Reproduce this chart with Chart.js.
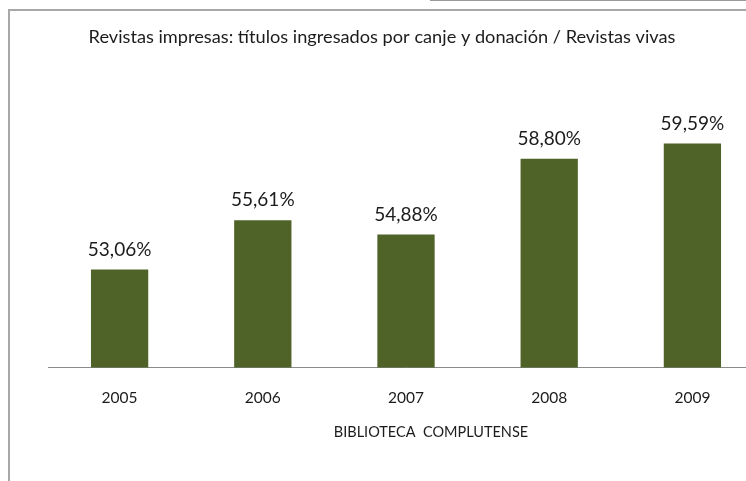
<!DOCTYPE html>
<html>
<head>
<meta charset="utf-8" />
<script src="https://cdn.jsdelivr.net/npm/chart.js"></script>
<style>
  html, body { margin: 0; padding: 0; background: #fff; overflow: hidden; }
  body { width: 746px; height: 481px; position: relative; }
  #wrap { position: absolute; left: 0; top: 0; width: 764px; height: 481px; }
  .frame-left { position: absolute; left: 8px; top: 9px; width: 2px; height: 472px; background: #a8a8a8; }
  .frame-top { position: absolute; left: 8px; top: 9px; width: 738px; height: 2px; background: #a8a8a8; }
  .edge-top { position: absolute; left: 430px; top: 0; width: 316px; height: 1px; background: #9a9a9a; }
</style>
</head>
<body>
<div id="wrap"><canvas id="chart" width="764" height="481"></canvas></div>
<div class="frame-left"></div>
<div class="frame-top"></div>
<div class="edge-top"></div>
<script>
  const years = ["2005", "2006", "2007", "2008", "2009"];
  const percentages = [53.06, 55.61, 54.88, 58.80, 59.59];
  const chartTitle = "Revistas impresas: títulos ingresados por canje y donación / Revistas vivas";
  const axisTitle = "BIBLIOTECA  COMPLUTENSE";

  const FONT = "Lato, 'Liberation Sans', sans-serif";
  const TEXT = "#1c1c1c";

  // labels over the bars, e.g. "53,06%"
  const barLabels = {
    id: "barLabels",
    afterDatasetsDraw(chart) {
      const ctx = chart.ctx;
      const meta = chart.getDatasetMeta(0);
      ctx.save();
      ctx.font = "19px " + FONT;
      ctx.fillStyle = TEXT;
      ctx.textAlign = "center";
      ctx.textBaseline = "middle";
      meta.data.forEach((bar, i) => {
        const txt = percentages[i].toFixed(2).replace(".", ",") + "%";
        ctx.fillText(txt, bar.x, bar.y - 20);
      });
      ctx.restore();
    }
  };

  // category axis title, sits a bit right of the plot centre like in the original
  const xTitle = {
    id: "xTitle",
    afterDraw(chart) {
      const { ctx, chartArea } = chart;
      ctx.save();
      ctx.font = "14.5px " + FONT;
      ctx.fillStyle = TEXT;
      ctx.textAlign = "center";
      ctx.textBaseline = "middle";
      ctx.fillText(axisTitle, (chartArea.left + chartArea.right) / 2 + 25, chartArea.bottom + 65);
      ctx.restore();
    }
  };

  new Chart(document.getElementById("chart"), {
    type: "bar",
    data: {
      labels: years,
      datasets: [{
        data: percentages,
        backgroundColor: "#4f6228",
        borderWidth: 0,
        categoryPercentage: 1,
        barPercentage: 0.4
      }]
    },
    options: {
      responsive: false,
      animation: false,
      layout: { padding: { left: 0, right: 0, top: 0, bottom: 53 } },
      plugins: {
        legend: { display: false },
        tooltip: { enabled: false },
        title: {
          display: true,
          text: chartTitle,
          color: TEXT,
          font: { family: FONT, size: 18.2, weight: "normal" },
          padding: { top: 26, bottom: 49 }
        }
      },
      scales: {
        x: {
          grid: { display: false, drawTicks: false },
          border: { display: true, color: "#8a8a8a", width: 1 },
          ticks: { color: TEXT, padding: 21, font: { family: FONT, size: 15.5 } }
        },
        y: {
          // invisible value axis, only keeps the left margin
          min: 48,
          max: 62,
          grid: { display: false, drawTicks: false },
          border: { display: false },
          ticks: { display: false },
          afterFit(scale) { scale.width = 48; }
        }
      }
    },
    plugins: [barLabels, xTitle]
  });
</script>
</body>
</html>
